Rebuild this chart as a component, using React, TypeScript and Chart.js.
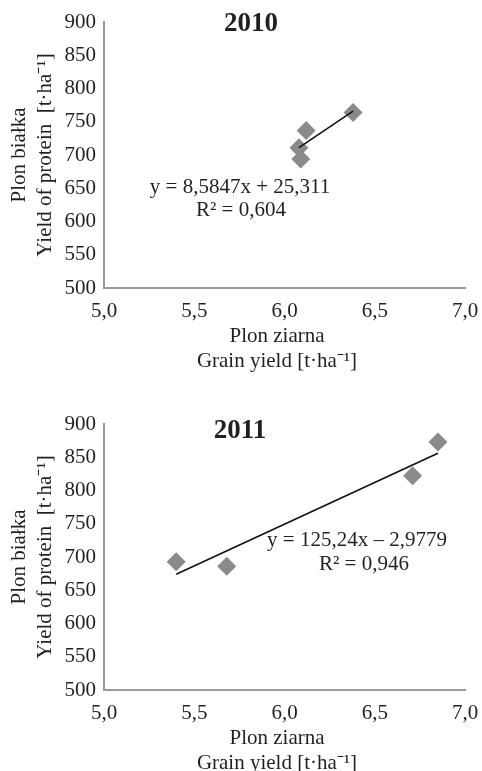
import React, { useEffect, useRef } from "react";
import { Chart, registerables } from "chart.js";

Chart.register(...registerables);

// ---- data ----
const grain2010 = [6.08, 6.09, 6.12, 6.38];
const protein2010 = [711, 694, 737, 764];
const trendX2010 = [6.08, 6.38];
const trendY2010 = [711, 766];

const grain2011 = [5.4, 5.68, 6.71, 6.85];
const protein2011 = [693, 686, 822, 873];
const trendX2011 = [5.4, 6.85];
const trendY2011 = [674, 856];

const xTicks = [5.0, 5.5, 6.0, 6.5, 7.0];
const yTicks = [500, 550, 600, 650, 700, 750, 800, 850, 900];

const yTitle = ["Plon białka", "Yield of protein  [t·ha⁻¹]"];
const xTitle = ["Plon ziarna", "Grain yield [t·ha⁻¹]"];

const FONT = '"Liberation Serif", "Times New Roman", serif';
const TEXT = "#231f20";
const AXIS = "#9a9a9a";
const MARK = "#8a8a8a";

type Ann = {
  title: string;
  titleX: number;
  titleDy: number;
  eq: string[];
  eqX: number[];
  eqDy: number[];
};

const annotPlugin = {
  id: "annot",
  afterDraw(chart: any, _args: any, opts: Ann) {
    const { ctx, chartArea } = chart;
    ctx.save();
    ctx.fillStyle = TEXT;
    ctx.textAlign = "center";
    ctx.textBaseline = "middle";
    ctx.font = `bold 27px ${FONT}`;
    ctx.fillText(opts.title, opts.titleX, chartArea.top + opts.titleDy);
    ctx.font = `21px ${FONT}`;
    opts.eq.forEach((line, i) => {
      ctx.fillText(line, opts.eqX[i], chartArea.top + opts.eqDy[i]);
    });
    ctx.fillText(xTitle[0], 277, chartArea.bottom + 48);
    ctx.fillText(xTitle[1], 277, chartArea.bottom + 73);
    ctx.restore();
  },
};

function ScatterPanel(props: {
  xs: number[];
  ys: number[];
  tx: number[];
  ty: number[];
  ann: Ann;
  top: number;
}) {
  const ref = useRef<HTMLCanvasElement>(null);
  useEffect(() => {
    if (!ref.current) return;
    const chart = new Chart(ref.current, {
      type: "scatter",
      data: {
        datasets: [
          {
            data: props.tx.map((x, i) => ({ x, y: props.ty[i] })),
            showLine: true,
            borderColor: "#111",
            borderWidth: 1.6,
            pointRadius: 0,
            order: 0,
          },
          {
            data: props.xs.map((x, i) => ({ x, y: props.ys[i] })),
            pointStyle: "rectRot",
            pointRadius: 9.5,
            backgroundColor: MARK,
            borderColor: MARK,
            borderWidth: 0,
            order: 1,
          },
        ],
      },
      options: {
        animation: false,
        responsive: false,
        maintainAspectRatio: false,
        layout: { padding: { left: 0, top: 22, right: 17, bottom: 0 } },
        plugins: {
          legend: { display: false },
          tooltip: { enabled: false },
          annot: props.ann,
        } as any,
        scales: {
          x: {
            type: "linear",
            min: xTicks[0],
            max: xTicks[xTicks.length - 1],
            afterBuildTicks: (s: any) => {
              s.ticks = xTicks.map((v) => ({ value: v }));
            },
            afterFit: (s: any) => {
              s.height = 112;
              s.paddingLeft = 0;
              s.paddingRight = 0;
            },
            grid: { display: false, drawTicks: false },
            border: { display: true, color: AXIS, width: 2 },
            ticks: {
              color: TEXT,
              font: { family: FONT, size: 21 },
              padding: 11,
              maxRotation: 0,
              callback: (v: any) => Number(v).toFixed(1).replace(".", ","),
            },
          },
          y: {
            type: "linear",
            min: yTicks[0],
            max: yTicks[yTicks.length - 1],
            afterBuildTicks: (s: any) => {
              s.ticks = yTicks.map((v) => ({ value: v }));
            },
            afterFit: (s: any) => {
              s.width = 104;
            },
            grid: { display: false, drawTicks: false },
            border: { display: true, color: AXIS, width: 2 },
            ticks: {
              color: TEXT,
              font: { family: FONT, size: 21 },
              padding: 8,
            },
            title: {
              display: true,
              text: yTitle,
              color: TEXT,
              font: { family: FONT, size: 21, lineHeight: 1.25 },
              padding: { top: 6, bottom: 0 },
            },
          },
        },
      },
      plugins: [annotPlugin],
    });
    return () => chart.destroy();
  }, []);
  return (
    <canvas
      ref={ref}
      width={482}
      height={400}
      style={{ position: "absolute", left: 0, top: props.top, width: 482, height: 400 }}
    />
  );
}

export default function App() {
  return (
    <div
      style={{
        position: "fixed",
        left: 0,
        top: 0,
        width: 482,
        height: 771,
        overflow: "hidden",
        background: "#fff",
      }}
    >
      <ScatterPanel
        xs={grain2010}
        ys={protein2010}
        tx={trendX2010}
        ty={trendY2010}
        top={0}
        ann={{
          title: "2010",
          titleX: 251,
          titleDy: 2,
          eq: ["y = 8,5847x + 25,311", "R² = 0,604"],
          eqX: [240, 241],
          eqDy: [165.7, 188.7],
        }}
      />
      <ScatterPanel
        xs={grain2011}
        ys={protein2011}
        tx={trendX2011}
        ty={trendY2011}
        top={401.5}
        ann={{
          title: "2011",
          titleX: 240,
          titleDy: 7.5,
          eq: ["y = 125,24x – 2,9779", "R² = 0,946"],
          eqX: [357, 364],
          eqDy: [116.7, 140],
        }}
      />
    </div>
  );
}
